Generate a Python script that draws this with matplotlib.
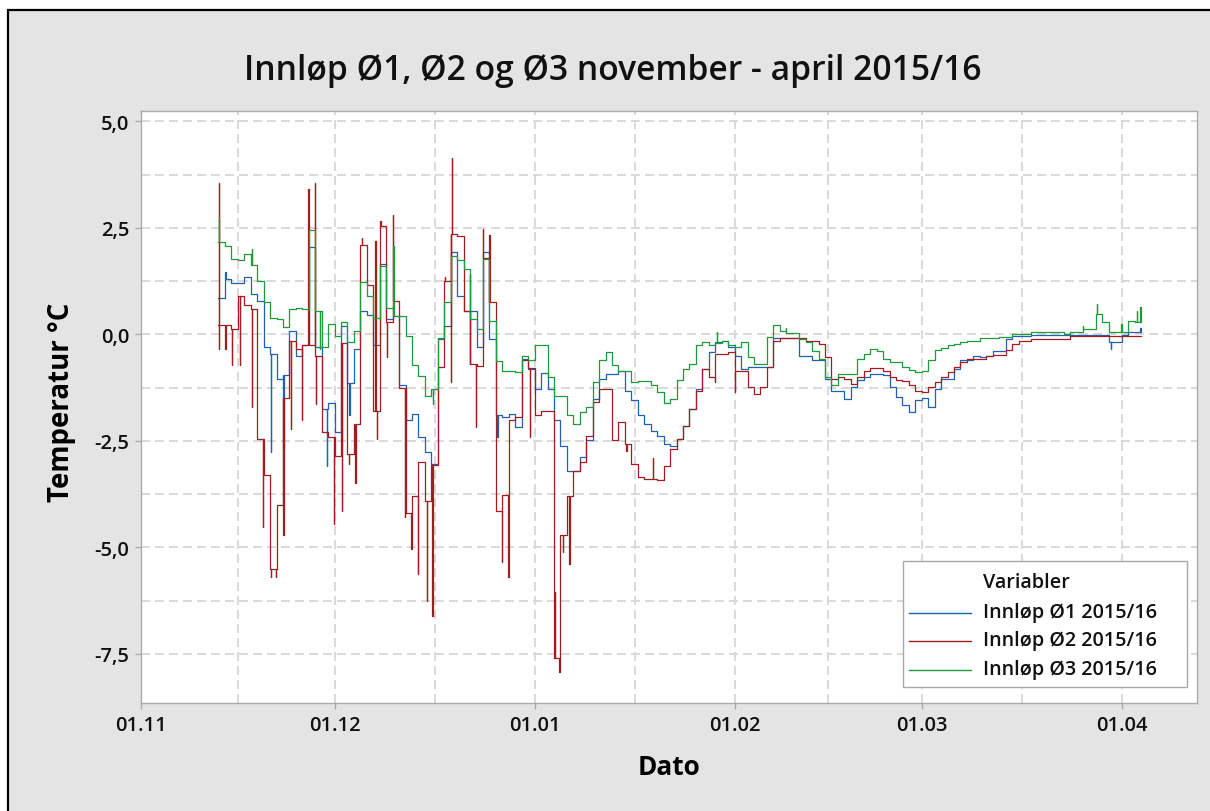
import numpy as np
import matplotlib
matplotlib.use("Agg")
import matplotlib.pyplot as plt
from matplotlib.patches import Rectangle
from matplotlib.lines import Line2D

# Daily inlet temperatures (deg C); day 0 = 1 Nov 2015, first reading on day 12
first_day = 12
last_day = 154.9

o1_daily = [
    0.85, 1.30, 1.20, 1.20, 1.35, 0.95, 0.79, -0.30, -0.45, -1.05,
    -0.95, 0.09, -0.50, -0.26, 2.05, -0.30, -1.75, -1.60, -2.30, 0.20,
    -1.15, -0.34, 0.56, 0.45, -0.26, 1.65, 0.36, 0.44, -1.20, -2.02,
    -1.87, -2.41, -2.77, -3.05, -0.10, 0.20, 1.93, 0.91, 0.56, 0.56,
    -0.30, 1.93, -0.11, -1.90, -1.95, -1.87, -2.17, -0.58, -0.81, -1.28,
    -0.90, -1.28, -2.02, -2.61, -3.20, -3.20, -2.88, -2.49, -1.51, -1.04,
    -0.93, -0.93, -0.85, -1.32, -1.55, -1.90, -2.10, -2.26, -2.38, -2.57,
    -2.61, -2.45, -2.14, -1.75, -1.28, -0.81, -0.42, -0.17, -0.15, -0.30,
    -0.50, -0.81, -0.76, -0.76, -0.76, -0.76, -0.08, -0.08, -0.08, -0.08,
    -0.50, -0.50, -0.61, -0.61, -1.04, -1.32, -1.32, -1.51, -1.23, -1.08,
    -1.00, -0.93, -0.93, -0.95, -1.24, -1.47, -1.65, -1.83, -1.55, -1.50,
    -1.71, -1.28, -1.04, -1.04, -0.81, -0.61, -0.61, -0.51, -0.52, -0.50,
    -0.38, -0.38, -0.11, -0.04, -0.03, -0.03, -0.01, -0.01, -0.01, -0.01,
    -0.01, -0.01, -0.01, -0.01, -0.01, -0.01, -0.01, -0.01, -0.18, -0.18,
    -0.01, 0.05, 0.05,
]
o2_daily = [
    0.21, 0.21, 0.13, 0.91, 0.68, 0.60, -2.45, -3.30, -5.50, -4.00,
    -1.50, -0.15, -0.35, -0.26, 3.06, -0.50, -2.30, -2.40, -2.85, -0.20,
    -2.80, -2.10, 2.10, 1.15, -1.80, 2.55, 0.30, 0.79, -1.25, -4.20,
    -3.80, -3.00, -3.90, -3.06, -0.76, 1.25, 2.35, 2.30, 0.55, -0.70,
    -0.75, 1.80, 0.75, -4.15, -3.78, -2.00, -1.94, -0.60, -0.80, -1.90,
    -1.80, -1.80, -7.60, -4.70, -3.80, -3.20, -3.00, -2.38, -1.59, -1.28,
    -1.28, -2.49, -2.06, -2.57, -3.04, -3.35, -3.39, -3.39, -3.43, -3.08,
    -2.69, -2.45, -2.14, -1.75, -1.32, -0.81, -1.00, -0.46, -0.46, -0.42,
    -0.85, -0.85, -1.24, -1.40, -1.24, -0.77, -0.15, -0.09, -0.09, -0.09,
    -0.09, -0.15, -0.15, -0.22, -0.53, -1.04, -1.00, -1.04, -1.16, -1.00,
    -0.85, -0.79, -0.79, -0.85, -1.00, -1.08, -1.10, -1.20, -1.32, -1.36,
    -1.24, -1.12, -1.00, -0.89, -0.77, -0.65, -0.58, -0.58, -0.57, -0.51,
    -0.48, -0.48, -0.36, -0.22, -0.15, -0.15, -0.11, -0.11, -0.10, -0.10,
    -0.10, -0.10, -0.05, -0.05, -0.05, -0.05, -0.05, -0.05, -0.05, -0.05,
    -0.05, -0.05, -0.03,
]
o3_daily = [
    2.16, 2.08, 1.76, 1.74, 1.89, 1.63, 1.26, 0.76, 0.39, 0.37,
    0.18, 0.60, 0.62, 0.60, 2.45, 0.55, -0.30, 0.25, -0.03, 0.29,
    -0.18, 0.09, 1.23, 0.91, 0.39, 1.60, 0.62, 0.43, 0.43, -0.03,
    -0.73, -0.97, -1.44, -1.28, -0.08, 0.77, 1.85, 1.75, 1.54, 0.36,
    0.13, 1.77, 0.32, -0.62, -0.85, -0.87, -0.89, -0.50, -0.60, -0.26,
    -0.26, -1.00, -1.44, -1.44, -1.90, -2.10, -1.82, -1.70, -1.12, -0.61,
    -0.41, -0.73, -0.85, -0.85, -1.12, -1.10, -1.10, -1.20, -1.35, -1.61,
    -1.51, -1.08, -0.81, -0.69, -0.26, -0.17, -0.26, -0.20, -0.15, -0.26,
    -0.30, -0.18, -0.53, -0.69, -0.69, -0.06, 0.21, 0.09, 0.03, 0.03,
    -0.11, -0.18, -0.38, -0.58, -1.00, -1.20, -0.93, -0.93, -0.93, -0.58,
    -0.46, -0.34, -0.38, -0.59, -0.64, -0.64, -0.77, -0.83, -0.89, -0.85,
    -0.61, -0.36, -0.32, -0.26, -0.22, -0.18, -0.15, -0.15, -0.09, -0.09,
    -0.09, -0.07, -0.07, 0.01, 0.01, 0.01, 0.05, 0.05, 0.05, 0.05,
    0.05, 0.01, 0.05, 0.05, 0.13, 0.13, 0.48, 0.30, 0.05, 0.05,
    0.05, 0.32, 0.29,
]

# Short-lived excursions within a day (time in days, value in deg C)
o1_spike_day = [13.05, 20.1, 22.05, 28.8, 32.3, 55.2, 150.3, 154.85]
o1_spike_val = [1.47, -2.76, -2.70, -3.10, -1.90, -2.42, -0.34, 0.15]

o2_spike_day = [12.02, 12.06, 13.05, 14.1, 15.3, 17.2, 18.9, 20.1, 20.9, 22.05,
                23.2, 24.9, 25.95, 26.9, 27.05, 29.9, 31.1, 32.2, 33.2, 34.2,
                36.3, 36.5, 37.1, 38.1, 39.05, 40.9, 41.9, 42.9, 44.25, 45.15,
                47.05, 48.05, 48.15, 51.0, 51.9, 53.0, 54.0, 55.9, 56.9, 60.3,
                64.1, 64.8, 65.4, 66.4, 75.2, 79.3, 88.9, 92.0]
o2_spike_val = [3.55, -0.34, -0.34, -0.73, -0.73, -1.70, -4.52, -5.69, -5.70, -4.72,
                -2.22, -2.02, 3.41, 3.55, -1.63, -4.45, -4.14, -3.04, -3.50, 2.27,
                2.20, -2.45, 2.67, -0.53, 2.80, -4.29, -5.03, -5.62, -6.25, -6.60,
                1.35, -1.12, 4.14, 1.42, -2.17, 2.47, 2.33, -5.35, -5.69, -2.41,
                -6.05, -7.93, -5.10, -5.40, -2.73, -2.90, -1.12, -1.36]

o3_spike_day = [12.02, 17.15, 27.7, 39.1, 45.2, 89.2, 99.9, 146.0, 148.1, 151.9, 154.3, 154.85]
o3_spike_val = [2.75, 2.00, -0.34, 2.08, -1.63, 0.06, 0.15, 0.20, 0.72, 0.25, 0.56, 0.64]

series_names = ["Innløp Ø1 2015/16", "Innløp Ø2 2015/16", "Innløp Ø3 2015/16"]
series_colors = ["#1f62b4", "#a51c20", "#1f9a38"]

month_ticks = [0, 30, 61, 92, 121, 152]
month_labels = ["01.11", "01.12", "01.01", "01.02", "01.03", "01.04"]
temp_ticks = [-7.5, -5.0, -2.5, 0.0, 2.5, 5.0]
temp_labels = ["-7,5", "-5,0", "-2,5", "0,0", "2,5", "5,0"]

title_text = "Innløp Ø1, Ø2 og Ø3 november - april 2015/16"
x_label = "Dato"
y_label = "Temperatur °C"
legend_title = "Variabler"

FONT = ["Open Sans", "DejaVu Sans"]
plt.rcParams["font.family"] = FONT
TEXT_WEIGHT = "semibold"

W, H = 1210, 812
fig = plt.figure(figsize=(W / 100, H / 100), dpi=100, facecolor="white")


def fx(px):
    return px / W


def fy(py):
    return 1 - py / H


# panel background with black frame
fig.patches.append(Rectangle((fx(8), -0.02), 1.05, fy(11) + 0.02, transform=fig.transFigure,
                             facecolor="#e4e4e4", edgecolor="black", linewidth=1.6, zorder=-10))

left, right, top, bottom = 141, 1197.3, 111.7, 704.3
ax = fig.add_axes([fx(left), fy(bottom), fx(right - left), (bottom - top) / H])
ax.set_facecolor("white")
ax.set_xlim(0, 163.7)
ax.set_ylim(-8.66, 5.25)

grid_kw = dict(color="#d9d9d9", linewidth=1.4, linestyle=(0, (4.6, 2.6)), zorder=0)
for yv in np.arange(-7.5, 5.01, 1.25):
    ax.axhline(yv, **grid_kw)
mids = [(a + b) / 2 for a, b in zip(month_ticks[:-1], month_ticks[1:])]
for xv in month_ticks + mids:
    ax.axvline(xv, **grid_kw)


def build(daily, spike_day, spike_val):
    t = list(np.arange(first_day, first_day + len(daily), dtype=float))
    v = list(daily)
    for sd, sv in zip(spike_day, spike_val):
        idx = min(int(np.floor(sd)) - first_day, len(daily) - 1)
        t += [sd, sd + 0.06]
        v += [sv, daily[idx]]
    t.append(last_day)
    v.append(daily[-1])
    order = np.argsort(t, kind="stable")
    return np.asarray(t)[order], np.asarray(v)[order]


for daily, sd, sv, col in [(o1_daily, o1_spike_day, o1_spike_val, series_colors[0]),
                           (o2_daily, o2_spike_day, o2_spike_val, series_colors[1]),
                           (o3_daily, o3_spike_day, o3_spike_val, series_colors[2])]:
    t, v = build(daily, sd, sv)
    ax.plot(t, v, drawstyle="steps-post", color=col, linewidth=0.9, zorder=3)

for s in ax.spines.values():
    s.set_color("#ababab")
    s.set_linewidth(1.0)
ax.set_xticks(month_ticks)
ax.set_xticklabels(month_labels, fontweight=TEXT_WEIGHT)
ax.set_yticks(temp_ticks)
ax.set_yticklabels(temp_labels, fontweight=TEXT_WEIGHT)
ax.tick_params(direction="out", length=4.3, width=1.0, color="#ababab",
               labelsize=14.5, labelcolor="#111111", pad=4)

renderer = fig.canvas.get_renderer()


def fit(txt, target, vertical=False):
    bb = txt.get_window_extent(renderer)
    cur = bb.height if vertical else bb.width
    txt.set_fontsize(txt.get_fontsize() * target / cur)


t_title = fig.text(fx(612.5), fy(71), title_text, ha="center", va="center", fontsize=24,
                   fontweight=TEXT_WEIGHT, color="#111111")
fit(t_title, 739)
t_x = fig.text(fx(668.5), fy(768), x_label, ha="center", va="center", fontsize=20, fontweight="bold")
fit(t_x, 63)
t_y = fig.text(fx(61.5), fy(402.5), y_label, ha="center", va="center", rotation=90,
               fontsize=20, fontweight="bold")
fit(t_y, 199, vertical=True)

# legend box
lx0, ly0, lx1, ly1 = 902.7, 562.3, 1186.7, 688.3
fig.patches.append(Rectangle((fx(lx0), fy(ly1)), fx(lx1 - lx0), (ly1 - ly0) / H,
                             transform=fig.transFigure, facecolor="white",
                             edgecolor="#a8a8a8", linewidth=1.0, zorder=5))
entry_y = [614.3, 642.3, 671.0]
lg_texts = []
t_lt = fig.text(fx(983), fy(583.5), legend_title, ha="left", va="center", fontsize=14,
                fontweight=TEXT_WEIGHT, color="#111111", zorder=6)
for name, col, yy in zip(series_names, series_colors, entry_y):
    fig.lines.append(Line2D([fx(909.3), fx(970.7)], [fy(yy), fy(yy)], transform=fig.transFigure,
                            color=col, linewidth=1.0, zorder=6))
    lg_texts.append(fig.text(fx(983), fy(yy - 1), name, ha="left", va="center", fontsize=14,
                             fontweight=TEXT_WEIGHT, color="#111111", zorder=6))
bb = lg_texts[0].get_window_extent(renderer)
scale = 175 / bb.width
for tx in lg_texts + [t_lt]:
    tx.set_fontsize(tx.get_fontsize() * scale)

fig.savefig("out.png", dpi=100, facecolor="white")
